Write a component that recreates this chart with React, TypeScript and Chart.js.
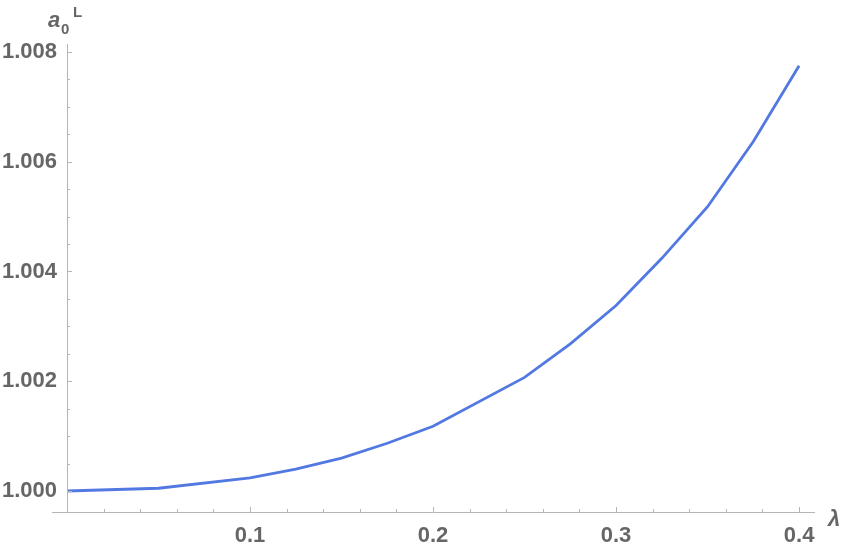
import React, { useEffect, useRef } from "react";
import { Chart, registerables } from "chart.js";

Chart.register(...registerables);

const lambdaValues = [0, 0.05, 0.1, 0.125, 0.15, 0.175, 0.2, 0.25, 0.275, 0.3, 0.325, 0.35, 0.375, 0.4];
const a0Values = [1.0, 1.00005, 1.00024, 1.0004, 1.0006, 1.00087, 1.00118, 1.00207, 1.00268, 1.00338, 1.00424, 1.00518, 1.00637, 1.00775];
const xTickValues = [0.1, 0.2, 0.3, 0.4];
const yTickValues = [1.0, 1.002, 1.004, 1.006, 1.008];
const xMinorStep = 0.02;
const yMinorStep = 0.0005;

const FONT = "'Liberation Sans', Arial, sans-serif";
const LABEL_COLOR = "#666666";
const AXIS_COLOR = "#b5b5b5";

const axesPlugin = {
  id: "mmaAxes",
  afterDraw(chart: any) {
    const { ctx, scales } = chart;
    const xs = scales.x;
    const ys = scales.y;
    const x0 = xs.getPixelForValue(0);
    const yBottom = ys.getPixelForValue(ys.min);
    const yTop = ys.getPixelForValue(ys.max);
    const xLeft = xs.getPixelForValue(-0.0082);
    const xRight = xs.getPixelForValue(xs.max);
    ctx.save();
    ctx.strokeStyle = AXIS_COLOR;
    ctx.lineWidth = 1;
    ctx.beginPath();
    ctx.moveTo(xLeft, Math.round(yBottom) + 0.5);
    ctx.lineTo(xRight, Math.round(yBottom) + 0.5);
    ctx.moveTo(Math.round(x0) + 0.5, yBottom);
    ctx.lineTo(Math.round(x0) + 0.5, yTop);
    ctx.stroke();
    ctx.beginPath();
    for (let i = 0; i * xMinorStep <= xs.max + 1e-9; i++) {
      const v = i * xMinorStep;
      const px = Math.round(xs.getPixelForValue(v)) + 0.5;
      const major = i % 5 === 0;
      const len = major ? 5 : 3;
      ctx.moveTo(px, yBottom);
      ctx.lineTo(px, yBottom - len);
    }
    for (let i = 0; 1 + i * yMinorStep <= ys.max + 1e-9; i++) {
      const v = 1 + i * yMinorStep;
      const py = Math.round(ys.getPixelForValue(v)) + 0.5;
      const major = i % 4 === 0;
      const len = major ? 5 : 3;
      ctx.moveTo(x0, py);
      ctx.lineTo(x0 + len, py);
    }
    for (let i = 1; 1 - i * yMinorStep >= ys.min; i++) {
      const v = 1 - i * yMinorStep;
      const py = Math.round(ys.getPixelForValue(v)) + 0.5;
      ctx.moveTo(x0, py);
      ctx.lineTo(x0 + 3, py);
    }
    ctx.stroke();
    ctx.fillStyle = LABEL_COLOR;
    ctx.textBaseline = "alphabetic";
    ctx.textAlign = "left";
    ctx.font = `italic bold 22px ${FONT}`;
    ctx.fillText("λ", xRight + 13, yBottom + 14);
    ctx.fillText("a", x0 - 19, yTop - 17);
    ctx.font = `bold 15px ${FONT}`;
    ctx.fillText("0", x0 - 6, yTop - 10);
    ctx.fillText("L", x0 + 6, yTop - 27);
    ctx.restore();
  },
};

export default function App() {
  const ref = useRef<HTMLCanvasElement>(null);
  useEffect(() => {
    if (!ref.current) return;
    const chart = new Chart(ref.current, {
      type: "line",
      data: {
        datasets: [
          {
            data: lambdaValues.map((x, i) => ({ x, y: a0Values[i] })),
            borderColor: "#5279e2",
            borderWidth: 2.8,
            pointRadius: 0,
            fill: false,
            tension: 0,
          },
        ],
      },
      options: {
        animation: false,
        responsive: false,
        maintainAspectRatio: false,
        layout: { padding: { left: 0, top: 44, right: 28, bottom: 0 } },
        plugins: { legend: { display: false }, tooltip: { enabled: false } },
        scales: {
          x: {
            type: "linear",
            min: 0,
            max: 0.4087,
            grid: { display: false, drawTicks: false },
            border: { display: false },
            afterBuildTicks: (s: any) => {
              s.ticks = xTickValues.map((v) => ({ value: v }));
            },
            afterFit: (s: any) => {
              s.height = 39;
            },
            ticks: {
              padding: 11,
              maxRotation: 0,
              autoSkip: false,
              color: LABEL_COLOR,
              font: { family: FONT, size: 22, weight: "bold" },
              callback: (v: any) => Number(v).toFixed(1),
            },
          },
          y: {
            type: "linear",
            min: 0.999617,
            max: 1.008146,
            grid: { display: false, drawTicks: false },
            border: { display: false },
            afterBuildTicks: (s: any) => {
              s.ticks = yTickValues.map((v) => ({ value: v }));
            },
            afterFit: (s: any) => {
              s.width = 67;
            },
            ticks: {
              padding: 10,
              autoSkip: false,
              color: LABEL_COLOR,
              font: { family: FONT, size: 22, weight: "bold" },
              callback: (v: any) => Number(v).toFixed(3),
            },
          },
        },
      },
      plugins: [axesPlugin],
    });
    return () => chart.destroy();
  }, []);
  return (
    <div style={{ position: "absolute", left: 0, top: 0, width: 843, height: 551, background: "#fff" }}>
      <canvas ref={ref} width={843} height={551} style={{ width: 843, height: 551 }} />
    </div>
  );
}
